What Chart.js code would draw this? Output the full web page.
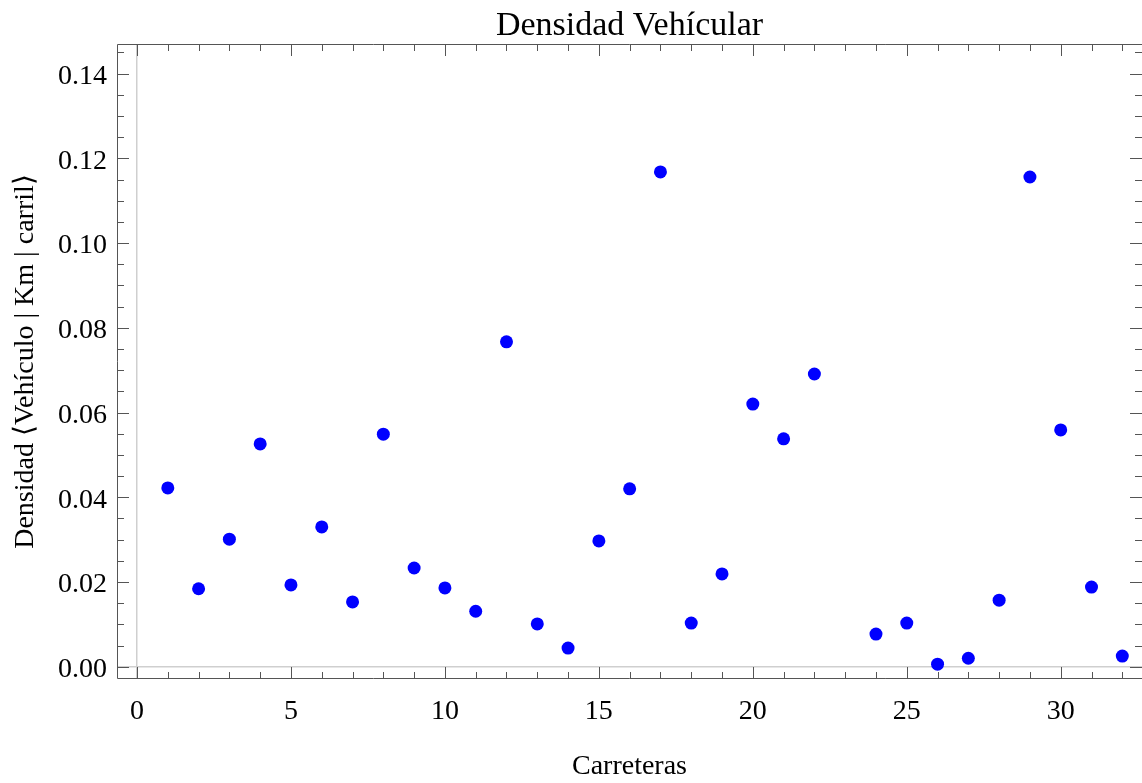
<!DOCTYPE html>
<html>
<head>
<meta charset="utf-8">
<title>Densidad Vehícular</title>
<script src="https://cdn.jsdelivr.net/npm/chart.js@4"></script>
<style>
  html, body { margin: 0; padding: 0; background: #fff; }
  canvas { display: block; }
</style>
</head>
<body>
<canvas id="densityChart" width="1142" height="783"></canvas>
<script>
// Carretera 23 has no value in the source plot
const carreteras = [1, 2, 3, 4, 5, 6, 7, 8, 9, 10, 11, 12, 13, 14, 15, 16,
  17, 18, 19, 20, 21, 22, 24, 25, 26, 27, 28, 29, 30, 31, 32];
const densidad = [0.0422, 0.0184, 0.0301, 0.0526, 0.0193, 0.0330, 0.0153, 0.0549,
  0.0233, 0.0186, 0.0131, 0.0767, 0.0101, 0.0044, 0.0297, 0.0420,
  0.1168, 0.0103, 0.0219, 0.0620, 0.0538, 0.0691, 0.0077, 0.0103,
  0.0006, 0.0020, 0.0157, 0.1156, 0.0559, 0.0188, 0.0025];
const chartTitle = "Densidad Vehícular";
const xMajorStep = 5;
const yMajorStep = 0.02;

(function () {
  if (typeof Chart === "undefined") return;

  const serif = "'Liberation Serif', 'Times New Roman', serif";
  const isMajor = (v, step) => Math.abs(v / step - Math.round(v / step)) < 1e-6;

  // Title centred over the plot frame rather than the whole canvas
  const titlePlugin = {
    id: "frameTitle",
    afterDraw(chart) {
      const { ctx, chartArea: a } = chart;
      ctx.save();
      ctx.fillStyle = "#000";
      ctx.font = "34px " + serif;
      ctx.textAlign = "center";
      ctx.textBaseline = "alphabetic";
      ctx.fillText(chartTitle, (a.left + a.right) / 2, 35);
      ctx.restore();
    }
  };

  // Mathematica-style frame with inward ticks (right edge of the frame falls off the image)
  const framePlugin = {
    id: "frame",
    afterDraw(chart) {
      const { ctx, chartArea: a } = chart;
      const xs = chart.scales.x, ys = chart.scales.y;
      ctx.save();
      ctx.strokeStyle = "#555";
      ctx.lineWidth = 1;
      ctx.beginPath();
      ctx.moveTo(a.right, a.top + 0.5);
      ctx.lineTo(a.left + 0.5, a.top + 0.5);
      ctx.lineTo(a.left + 0.5, a.bottom - 0.5);
      ctx.lineTo(a.right, a.bottom - 0.5);
      xs.ticks.forEach(t => {
        const px = Math.round(xs.getPixelForValue(t.value)) + 0.5;
        const len = isMajor(t.value, xMajorStep) ? 12 : 7;
        ctx.moveTo(px, a.bottom); ctx.lineTo(px, a.bottom - len);
        ctx.moveTo(px, a.top); ctx.lineTo(px, a.top + len);
      });
      ys.ticks.forEach(t => {
        const py = Math.round(ys.getPixelForValue(t.value)) + 0.5;
        const len = isMajor(t.value, yMajorStep) ? 12 : 7;
        ctx.moveTo(a.left, py); ctx.lineTo(a.left + len, py);
        ctx.moveTo(a.right, py); ctx.lineTo(a.right - len, py);
      });
      ctx.stroke();
      ctx.restore();
    }
  };

  const axisLine = c => (c.tick && Math.abs(c.tick.value) < 1e-9) ? "#cfcfcf" : "rgba(0,0,0,0)";

  new Chart(document.getElementById("densityChart"), {
    type: "scatter",
    data: {
      datasets: [{
        label: "Densidad",
        data: carreteras.map((c, i) => ({ x: c, y: densidad[i] })),
        backgroundColor: "#0000ff",
        borderWidth: 0,
        pointRadius: 6.5,
        pointHoverRadius: 6.5
      }]
    },
    options: {
      responsive: false,
      devicePixelRatio: 1,
      animation: false,
      layout: { padding: { top: 44, left: 0, right: 0, bottom: 0 }, autoPadding: false },
      plugins: {
        legend: { display: false },
        tooltip: { enabled: false },
        title: { display: false }
      },
      scales: {
        x: {
          type: "linear",
          min: -0.65,
          max: 32.64,
          afterFit: s => { s.height = 104; },
          border: { display: false },
          grid: { color: axisLine, lineWidth: 1.5, drawTicks: false },
          ticks: {
            stepSize: 1,
            includeBounds: false,
            autoSkip: false,
            maxRotation: 0,
            padding: 16,
            color: "#000",
            font: { family: serif, size: 28 },
            callback: v => isMajor(v, xMajorStep) ? String(Math.round(v)) : ""
          },
          title: {
            display: true,
            text: "Carreteras",
            color: "#000",
            font: { family: serif, size: 28 },
            padding: { top: 0, bottom: 0 }
          }
        },
        y: {
          type: "linear",
          min: -0.0029,
          max: 0.147,
          afterFit: s => { s.width = 117; },
          border: { display: false },
          grid: { color: axisLine, lineWidth: 1.5, drawTicks: false },
          ticks: {
            stepSize: 0.005,
            includeBounds: false,
            autoSkip: false,
            padding: 10,
            labelOffset: 3,
            color: "#000",
            font: { family: serif, size: 28 },
            callback: v => isMajor(v, yMajorStep) ? v.toFixed(2) : ""
          },
          title: {
            display: true,
            text: "Densidad \u27E8Vehículo | Km | carril\u27E9",
            color: "#000",
            font: { family: serif, size: 28 },
            padding: { top: 9, bottom: 0 }
          }
        }
      }
    },
    plugins: [framePlugin, titlePlugin]
  });
})();
</script>
</body>
</html>
